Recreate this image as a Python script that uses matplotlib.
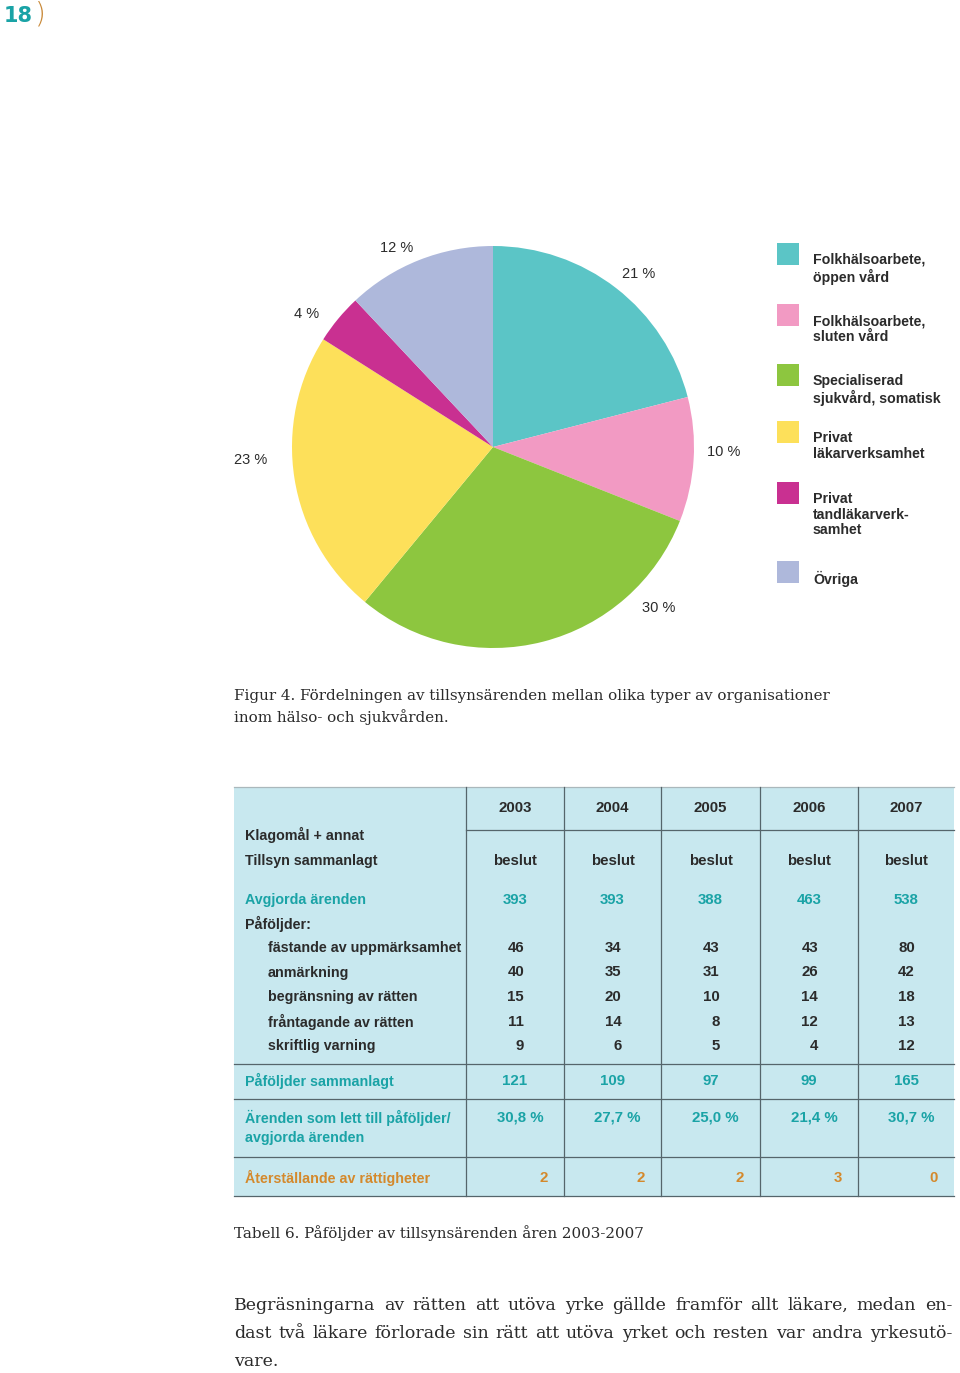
import matplotlib
matplotlib.use('Agg')
import matplotlib.pyplot as plt
from matplotlib.patches import Rectangle

# pie data (share of supervision cases per organisation type)
org_labels = ['Folkhälsoarbete,\nöppen vård', 'Folkhälsoarbete,\nsluten vård',
              'Specialiserad\nsjukvård, somatisk', 'Privat\nläkarverksamhet',
              'Privat\ntandläkarverk-\nsamhet', 'Övriga']
org_shares = [21, 10, 30, 23, 4, 12]
org_colors = ['#5bc5c6', '#f29ac3', '#8dc63f', '#fde05a', '#c93091', '#aeb8db']

# table data
years = ['2003', '2004', '2005', '2006', '2007']
avgjorda = [393, 393, 388, 463, 538]
pafoljd_labels = ['fästande av uppmärksamhet', 'anmärkning', 'begränsning av rätten',
                  'fråntagande av rätten', 'skriftlig varning']
pafoljd_values = [[46, 34, 43, 43, 80],
                  [40, 35, 31, 26, 42],
                  [15, 20, 10, 14, 18],
                  [11, 14, 8, 12, 13],
                  [9, 6, 5, 4, 12]]
sammanlagt = [121, 109, 97, 99, 165]
andel = ['30,8 %', '27,7 %', '25,0 %', '21,4 %', '30,7 %']
aterstallande = [2, 2, 2, 3, 0]

SANS = ['Liberation Sans', 'DejaVu Sans']
SERIF = ['DejaVu Serif']
TEAL = '#1aa3a6'
ORANGE = '#d4892c'
INK = '#2b2b2b'

fig = plt.figure(figsize=(9.6, 13.73), dpi=100)
page = fig.add_axes([0, 0, 1, 1])
page.set_xlim(0, 960)
page.set_ylim(1373, 0)
page.axis('off')

# page number
page.text(4, 16, '18', color=TEAL, fontsize=15, fontweight='bold', family=['DejaVu Sans'], va='center')
page.text(35, 15, ')', color='#c98a3a', fontsize=20, family=['DejaVu Sans'], va='center',
          fontweight='light')

# pie
pie_ax = fig.add_axes([292 / 960, 1 - 648 / 1373, 402 / 960, 402 / 1373])
pie_ax.pie(org_shares, colors=org_colors, startangle=90, counterclock=False,
           wedgeprops=dict(linewidth=0))
pie_ax.set_xlim(-1, 1)
pie_ax.set_ylim(-1, 1)
pie_ax.set_aspect('equal')

pct_pos = [(639, 274), (724, 452), (659, 608), (251, 460), (307, 314), (397, 248)]
for share, (px, py) in zip(org_shares, pct_pos):
    page.text(px, py, f'{share} %', ha='center', va='center', fontsize=10.5,
              family=SANS, color=INK)

# legend
leg_tops = [243, 304, 364, 421, 482, 561]
for lab, col, top in zip(org_labels, org_colors, leg_tops):
    page.add_patch(Rectangle((777, top), 22, 22, color=col, lw=0))
    page.text(813, top + 10, lab, ha='left', va='top', fontsize=10.2, fontweight='bold',
              family=SANS, color=INK, linespacing=1.15)

# figure caption
cap_kw = dict(fontsize=10.9, family=SERIF, color=INK, va='center')
page.text(234, 696, 'Figur 4. Fördelningen av tillsynsärenden mellan olika typer av organisationer', **cap_kw)
page.text(234, 717, 'inom hälso- och sjukvården.', **cap_kw)

# table
x_left, x_right = 234, 954
col_edges = [466, 564, 661, 760, 858, 954]
col_mid = [(a + b) / 2 for a, b in zip(col_edges[:-1], col_edges[1:])]
page.add_patch(Rectangle((x_left, 787), x_right - x_left, 1196 - 787, color='#c8e8ef', lw=0))
line_kw = dict(color='#55656b', lw=0.9)
page.plot([x_left, x_right], [787, 787], color='#aab8bc', lw=0.9)
for y in [1064, 1099, 1157, 1196]:
    page.plot([x_left, x_right], [y, y], **line_kw)
page.plot([col_edges[0], x_right], [830, 830], **line_kw)
for x in col_edges[:-1]:
    page.plot([x, x], [787, 1196], **line_kw)

tfont = dict(fontsize=10.3, fontweight='bold', family=SANS, va='center')
nfont = dict(tfont, fontsize=10.8)
page.text(245, 835, 'Klagomål + annat', color=INK, **tfont)
page.text(245, 861, 'Tillsyn sammanlagt', color=INK, **tfont)
for i, yr in enumerate(years):
    page.text(col_mid[i], 808, yr, ha='center', color=INK, **nfont)
    page.text(col_mid[i], 861, 'beslut', ha='center', color=INK, **nfont)

page.text(245, 900, 'Avgjorda ärenden', color=TEAL, **tfont)
for i, v in enumerate(avgjorda):
    page.text(col_mid[i], 900, str(v), ha='center', color=TEAL, **nfont)

page.text(245, 924, 'Påföljder:', color=INK, **tfont)
for r, (lab, vals) in enumerate(zip(pafoljd_labels, pafoljd_values)):
    y = 948 + r * 24.5
    page.text(268, y, lab, color=INK, **tfont)
    for i, v in enumerate(vals):
        page.text(col_mid[i] + 9, y, str(v), ha='right', color=INK, **nfont)

page.text(245, 1081, 'Påföljder sammanlagt', color=TEAL, **tfont)
for i, v in enumerate(sammanlagt):
    page.text(col_mid[i], 1081, str(v), ha='center', color=TEAL, **nfont)

page.text(245, 1118, 'Ärenden som lett till påföljder/', color=TEAL, **tfont)
page.text(245, 1138, 'avgjorda ärenden', color=TEAL, **tfont)
for i, v in enumerate(andel):
    page.text(col_mid[i] + 5, 1118, v, ha='center', color=TEAL, **nfont)

page.text(245, 1178, 'Återställande av rättigheter', color=ORANGE, **tfont)
for i, v in enumerate(aterstallande):
    page.text(col_edges[i + 1] - 16, 1178, str(v), ha='right', color=ORANGE, **nfont)

page.text(234, 1233, 'Tabell 6. Påföljder av tillsynsärenden åren 2003-2007', **cap_kw)

# justified paragraph
renderer = fig.canvas.get_renderer()
para_lines = ['Begräsningarna av rätten att utöva yrke gällde framför allt läkare, medan en-',
              'dast två läkare förlorade sin rätt att utöva yrket och resten var andra yrkesutö-',
              'vare.']
X0, X1 = 234, 952


def words_width(words, size):
    items = [page.text(0, 0, w, fontsize=size, family=SERIF) for w in words]
    total = sum(t.get_window_extent(renderer).width for t in items)
    for t in items:
        t.remove()
    return total


# pick a size so the longest line fits with ~7 px word gaps
base = 12.0
fit = []
for line in para_lines[:2]:
    w = line.split()
    fit.append(base * (X1 - X0 - 7 * (len(w) - 1)) / words_width(w, base))
para_size = min(fit)


def justified_line(words, y, **kw):
    items = [page.text(0, y, w, va='center', **kw) for w in words]
    widths = [t.get_window_extent(renderer).width for t in items]
    gap = (X1 - X0 - sum(widths)) / max(len(words) - 1, 1)
    x = X0
    for t, w in zip(items, widths):
        t.set_x(x)
        x += w + gap


para_kw = dict(fontsize=para_size, family=SERIF, color=INK)
justified_line(para_lines[0].split(), 1305, **para_kw)
justified_line(para_lines[1].split(), 1333, **para_kw)
page.text(X0, 1361, para_lines[2], va='center', **para_kw)

fig.savefig('out.png', dpi=100)
